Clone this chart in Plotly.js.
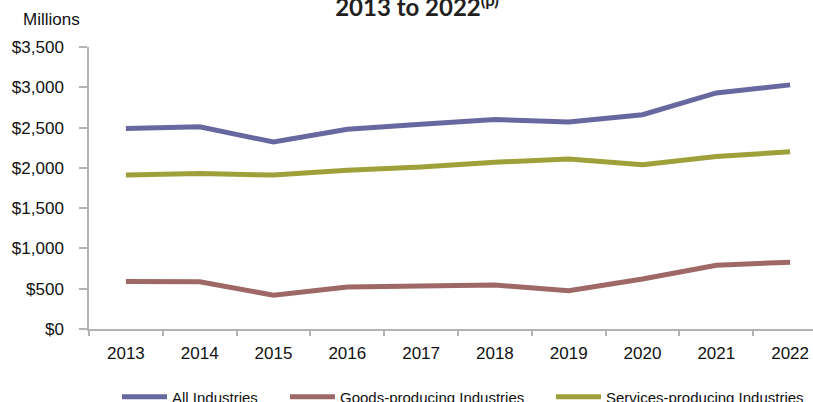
<!DOCTYPE html>
<html>
<head>
<meta charset="utf-8">
<script src="https://cdn.plot.ly/plotly-3.0.1.min.js"></script>
<style>html,body{margin:0;padding:0;background:#fff;}#chart{width:813px;height:402px;}</style>
</head>
<body>
<div id="chart"></div>
<script>
const years = ['2013','2014','2015','2016','2017','2018','2019','2020','2021','2022'];
const allIndustries = [2490, 2510, 2320, 2480, 2540, 2600, 2570, 2660, 2930, 3030];
const goodsProducing = [590, 585, 420, 520, 535, 545, 475, 620, 790, 830];
const servicesProducing = [1910, 1930, 1910, 1970, 2010, 2070, 2110, 2040, 2140, 2200];
const yTickVals = [0, 500, 1000, 1500, 2000, 2500, 3000, 3500];
const yTickText = ['$0', '$500', '$1,000', '$1,500', '$2,000', '$2,500', '$3,000', '$3,500'];

const font = 'Liberation Sans, Arial, sans-serif';
const mk = (name, y, color, leg) => ({
  type: 'scatter', mode: 'lines', name: name, x: years, y: y, legend: leg,
  line: {color: color, width: 5}, hoverinfo: 'x+y+name'
});
const data = [
  mk('All Industries', allIndustries, '#6868A0', 'legend'),
  mk('Goods-producing Industries', goodsProducing, '#9E6866', 'legend2'),
  mk('Services-producing Industries', servicesProducing, '#9EA03A', 'legend3')
];
const legendBase = (x) => ({
  orientation: 'h', x: x, xanchor: 'left', xref: 'container',
  y: 0.0124, yanchor: 'middle', yref: 'container',
  font: {family: font, size: 15, color: '#111'},
  itemwidth: 45, bgcolor: 'rgba(0,0,0,0)'
});
const layout = {
  width: 813, height: 402,
  margin: {l: 89, r: 0, t: 47, b: 73, pad: 0},
  paper_bgcolor: '#fff', plot_bgcolor: '#fff',
  font: {family: font, size: 17, color: '#111'},
  showlegend: true,
  title: {
    text: '<b>2013 to 2022<sup>(p)</sup></b>',
    font: {family: 'Lato, Noto Sans, sans-serif', size: 24, color: '#231f20'},
    x: 0.513, xanchor: 'center', xref: 'container',
    y: 0.96, yanchor: 'bottom', yref: 'container'
  },
  xaxis: {
    type: 'category', range: [-0.5, 9.31],
    showline: true, linecolor: '#b3b3b3', linewidth: 1.5,
    ticks: 'outside', tickson: 'boundaries', ticklen: 5, tickcolor: '#b3b3b3', tickwidth: 1.5,
    showgrid: false, zeroline: false,
    tickfont: {family: font, size: 17, color: '#111'},
    ticklabelstandoff: 8, fixedrange: true, automargin: false
  },
  yaxis: {
    range: [0, 3500], tickvals: yTickVals, ticktext: yTickText,
    showline: true, linecolor: '#b3b3b3', linewidth: 1.5,
    ticks: 'outside', ticklen: 8, tickcolor: '#b3b3b3', tickwidth: 1.5,
    showgrid: false, zeroline: false,
    tickfont: {family: font, size: 17, color: '#111'},
    ticklabelstandoff: 12, fixedrange: true, automargin: false
  },
  legend: legendBase(117 / 813),
  legend2: legendBase(285 / 813),
  legend3: legendBase(551 / 813),
  annotations: [{
    text: 'Millions', xref: 'paper', yref: 'paper', x: -0.094, y: 1.096,
    xanchor: 'left', yanchor: 'middle', showarrow: false,
    font: {family: font, size: 17, color: '#111'}
  }]
};
Plotly.newPlot('chart', data, layout, {displayModeBar: false, staticPlot: false});
</script>
</body>
</html>
